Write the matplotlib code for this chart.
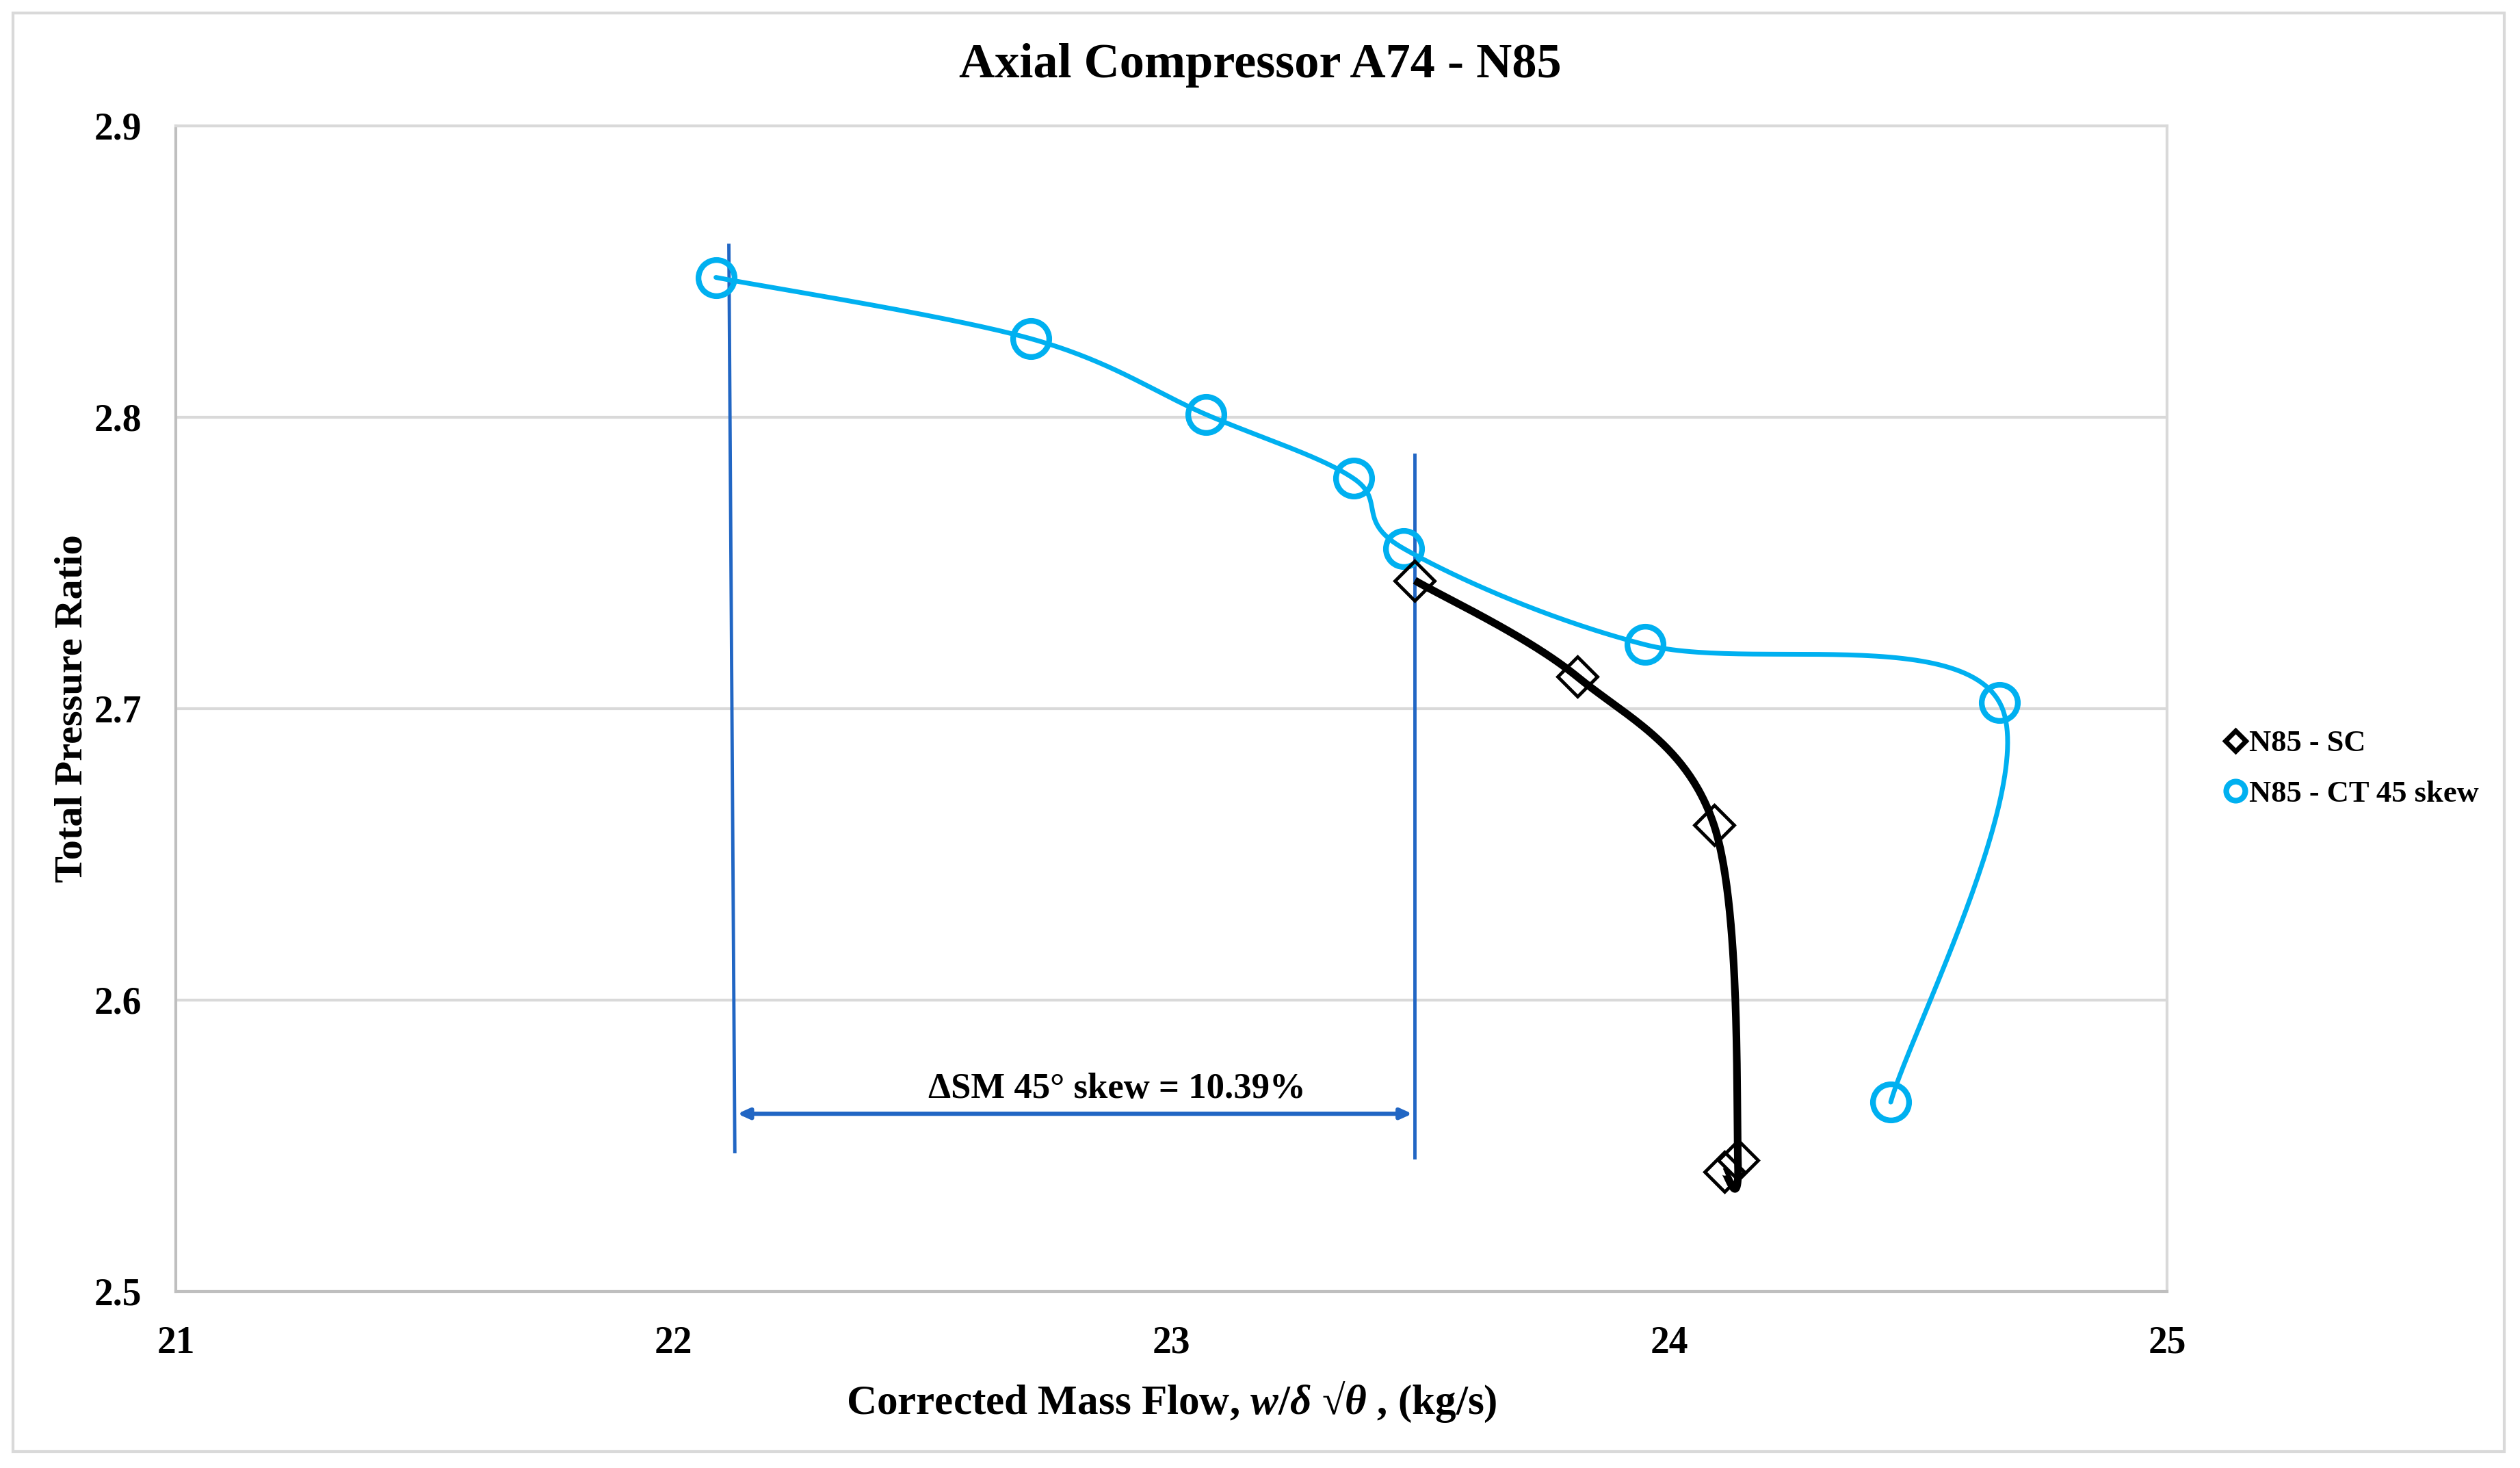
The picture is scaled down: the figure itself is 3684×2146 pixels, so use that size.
import numpy as np
import matplotlib
matplotlib.use("Agg")
import matplotlib.pyplot as plt
from matplotlib.lines import Line2D
from matplotlib.patches import Rectangle

# ---- data ----
ct_flow = [22.085, 22.717, 23.069, 23.366, 23.466, 23.951, 24.664, 24.445]
ct_pr = [2.848, 2.827, 2.801, 2.779, 2.755, 2.722, 2.702, 2.565]
sc_flow = [23.489, 23.815, 24.090, 24.138, 24.111]
sc_pr = [2.744, 2.711, 2.660, 2.545, 2.541]
x_ticks = [21, 22, 23, 24, 25]
y_ticks = [2.5, 2.6, 2.7, 2.8, 2.9]
title = "Axial Compressor A74 - N85"
xlabel = r"Corrected Mass Flow, $\mathit{w/\delta}$ √$\mathit{\theta}$ , (kg/s)"
ylabel = "Total Pressure Ratio"
legend_labels = ["N85 - SC", "N85 - CT 45 skew"]
sm_text = "ΔSM 45° skew = 10.39%"
# stall-margin guide lines (x at bottom, x at top, y bottom, y top)
sm_left = (22.123, 22.111, 2.548, 2.859)
sm_right = (23.489, 23.489, 2.546, 2.787)
sm_arrow_y = 2.561
sm_text_xy = (22.89, 2.5695)

CYAN = "#00B0F0"
BLUE = "#2166C4"
GRID = "#D9D9D9"

plt.rcParams["font.family"] = ["Liberation Serif", "DejaVu Serif"]
plt.rcParams["mathtext.fontset"] = "custom"
plt.rcParams["mathtext.rm"] = "Liberation Serif:bold"
plt.rcParams["mathtext.it"] = "Liberation Serif:bold:italic"
plt.rcParams["mathtext.bf"] = "Liberation Serif:bold"

W, H = 3684, 2146
fig = plt.figure(figsize=(W / 100, H / 100), dpi=100)
fig.patch.set_facecolor("white")
fig.add_artist(Rectangle((19 / W, 1 - 2122 / H), (3661 - 19) / W, (2122 - 19) / H,
                         transform=fig.transFigure, fill=False, edgecolor=GRID, lw=3))

ax = fig.add_axes([257 / W, 1 - 1888 / H, (3168 - 257) / W, (1888 - 184) / H])
ax.set_xlim(21, 25)
ax.set_ylim(2.5, 2.9)
ax.set_xticks(x_ticks)
ax.set_yticks(y_ticks)
ax.set_xticklabels([str(v) for v in x_ticks])
ax.set_yticklabels([f"{v:.1f}" for v in y_ticks])
ax.tick_params(length=0, labelsize=40, pad=36)
for lab in ax.get_xticklabels() + ax.get_yticklabels():
    lab.set_fontweight("bold")
ax.grid(axis="y", color=GRID, lw=3)
ax.set_axisbelow(True)
for s in ["left", "bottom"]:
    ax.spines[s].set_color("#BFBFBF")
    ax.spines[s].set_linewidth(3)
for s in ["top", "right"]:
    ax.spines[s].set_color(GRID)
    ax.spines[s].set_linewidth(3)


def smooth(x, y, n=60):
    pts = ax.transData.transform(np.column_stack([x, y]))
    P = np.vstack([pts[0], pts, pts[-1]])
    out = []
    t = np.linspace(0, 1, n)[:, None]
    for i in range(1, len(P) - 2):
        p0, p1, p2, p3 = P[i - 1], P[i], P[i + 1], P[i + 2]
        c1 = p1 + (p2 - p0) / 6
        c2 = p2 - (p3 - p1) / 6
        seg = ((1 - t) ** 3) * p1 + 3 * ((1 - t) ** 2) * t * c1 + 3 * (1 - t) * t ** 2 * c2 + t ** 3 * p2
        out.append(seg)
    res = ax.transData.inverted().transform(np.vstack(out))
    return res[:, 0], res[:, 1]


# stall margin guide lines
ax.plot(sm_left[:2], sm_left[2:], color=BLUE, lw=3.5, zorder=2)
ax.plot(sm_right[:2], sm_right[2:], color=BLUE, lw=3.5, zorder=2)
ax.annotate("", xy=(sm_left[0] + 0.005, sm_arrow_y), xytext=(sm_right[0] - 0.005, sm_arrow_y),
            arrowprops=dict(arrowstyle="<|-|>,head_length=1.0,head_width=0.45", color=BLUE, lw=4.5,
                            shrinkA=0, shrinkB=0), zorder=2)
ax.text(sm_text_xy[0], sm_text_xy[1], sm_text, ha="center", va="center", fontsize=38,
        fontweight="bold", zorder=3)

# series
bx, by = smooth(ct_flow, ct_pr)
ax.plot(bx, by, color=CYAN, lw=5, zorder=3, solid_capstyle="round")
ax.plot(ct_flow, ct_pr, ls="none", marker="o", ms=38, mfc="none", mec=CYAN, mew=6, zorder=4)
kx, ky = smooth(sc_flow, sc_pr)
ax.plot(kx, ky, color="black", lw=8, zorder=5, solid_capstyle="butt")
ax.plot(sc_flow, sc_pr, ls="none", marker="D", ms=30, mfc="none", mec="black", mew=3.5, zorder=6)

ax.set_xlabel(xlabel, fontsize=44, fontweight="bold", labelpad=20)
ax.set_ylabel(ylabel, fontsize=42, fontweight="bold", labelpad=4)
fig.text(0.5, 1 - 96 / H, title, ha="center", va="center", fontsize=52,
         fontweight="bold")

handles = [Line2D([], [], ls="none", marker="D", ms=15, mfc="none", mec="black", mew=5),
           Line2D([], [], ls="none", marker="o", ms=20, mfc="none", mec=CYAN, mew=6)]
fig.legend(handles, legend_labels, loc="center left", bbox_to_anchor=(3255 / W, 1 - 1124 / H),
           frameon=False, prop={"size": 32, "weight": "bold"}, handlelength=0.6,
           handletextpad=0.15, labelspacing=0.75, borderaxespad=0, borderpad=0)

fig.savefig("out.png", dpi=100, facecolor="white")
